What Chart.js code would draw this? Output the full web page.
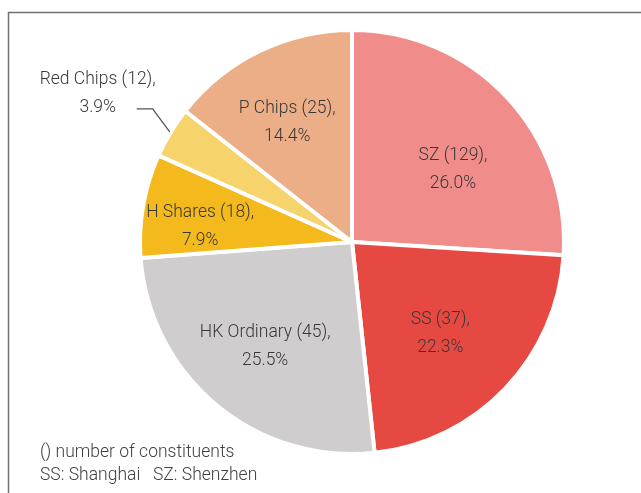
<!DOCTYPE html>
<html>
<head>
<meta charset="utf-8">
<script src="https://cdn.jsdelivr.net/npm/chart.js@4.4.0/dist/chart.umd.min.js"></script>
<style>
  html, body { margin: 0; padding: 0; background: #fff; }
  canvas { display: block; }
</style>
</head>
<body>
<canvas id="pie" width="641" height="493"></canvas>
<script>
// datos del grafico (orden horario desde arriba)
const categories = ['SZ', 'SS', 'HK Ordinary', 'H Shares', 'Red Chips', 'P Chips'];
const constituents = [129, 37, 45, 18, 12, 25];
const shares = [26.0, 22.3, 25.5, 7.9, 3.9, 14.4];
const notes = ['() number of constituents', 'SS: Shanghai', 'SZ: Shenzhen'];

const colors = ['#f08d8b', '#e64942', '#cfcdce', '#f4b91d', '#f7d46b', '#ecae86'];
// posicion de etiqueta: [fraccion del radio, giro en grados], null = fuera
const labelPlace = [[0.585, 7.7], [0.6, 2.3], [0.64, 0], [0.72, -4], null, [0.64, -2.6]];

const FONT = '300 17.5px Roboto, "Liberation Sans", sans-serif';
const TEXT = '#383838';

const framePlugin = {
  id: 'frame',
  beforeDraw(chart) {
    const ctx = chart.ctx;
    ctx.save();
    ctx.strokeStyle = '#707070';
    ctx.lineWidth = 1.5;
    ctx.beginPath();
    ctx.moveTo(8.5, 493);
    ctx.lineTo(8.5, 12.5);
    ctx.lineTo(641, 12.5);
    ctx.stroke();
    ctx.restore();
  }
};

const labelPlugin = {
  id: 'sliceLabels',
  afterDraw(chart) {
    const ctx = chart.ctx;
    const arcs = chart.getDatasetMeta(0).data;
    ctx.save();
    ctx.font = FONT;
    ctx.fillStyle = TEXT;
    ctx.textAlign = 'center';
    ctx.textBaseline = 'middle';
    arcs.forEach((arc, i) => {
      const { x, y, startAngle, endAngle, outerRadius } = arc.getProps(['x', 'y', 'startAngle', 'endAngle', 'outerRadius'], true);
      const mid = (startAngle + endAngle) / 2;
      const line1 = `${categories[i]} (${constituents[i]}),`;
      const line2 = `${shares[i].toFixed(1)}%`;
      const place = labelPlace[i];
      if (place) {
        const a = mid + place[1] * Math.PI / 180;
        const r = outerRadius * place[0];
        const lx = x + Math.cos(a) * r;
        const ly = y + Math.sin(a) * r;
        ctx.fillText(line1, lx, ly - 14);
        ctx.fillText(line2, lx, ly + 14);
      } else {
        // etiqueta exterior con linea guia
        const ex = x + Math.cos(mid) * (outerRadius + 1);
        const ey = y + Math.sin(mid) * (outerRadius + 1);
        const bx = ex - 17, by = ey - 23;
        ctx.strokeStyle = '#555';
        ctx.lineWidth = 1.3;
        ctx.beginPath();
        ctx.moveTo(ex, ey);
        ctx.lineTo(bx, by);
        ctx.lineTo(bx - 16, by);
        ctx.stroke();
        const tx = bx - 16 - 39;
        ctx.fillText(line1, tx, by - 29);
        ctx.fillText(line2, tx, by - 1);
      }
    });
    // notas al pie
    ctx.textAlign = 'left';
    ctx.fillStyle = '#404040';
    ctx.fillText(notes[0], 40, 453);
    ctx.fillText(notes[1], 40, 476);
    ctx.fillText(notes[2], 153, 476);
    ctx.restore();
  }
};

new Chart(document.getElementById('pie').getContext('2d'), {
  type: 'pie',
  data: {
    labels: categories,
    datasets: [{
      data: shares,
      backgroundColor: colors,
      borderColor: '#ffffff',
      borderWidth: 4
    }]
  },
  options: {
    responsive: false,
    animation: false,
    radius: 212,
    layout: { padding: { left: 63, right: 0, top: 2, bottom: 11 } },
    plugins: {
      legend: { display: false },
      tooltip: { enabled: false }
    }
  },
  plugins: [framePlugin, labelPlugin]
});
</script>
</body>
</html>
